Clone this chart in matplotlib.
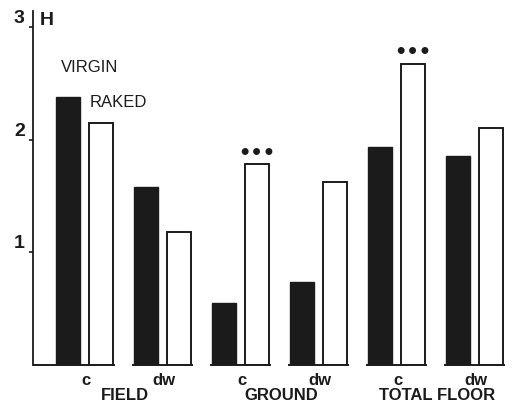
import matplotlib
matplotlib.use("Agg")
import matplotlib.pyplot as plt
import numpy as np

# ---- data ----
groups = ["FIELD c", "FIELD dw", "GROUND c", "GROUND dw", "TOTAL FLOOR c", "TOTAL FLOOR dw"]
sub_labels = ["c", "dw", "c", "dw", "c", "dw"]
virgin = [2.38, 1.58, 0.55, 0.74, 1.93, 1.85]
raked = [2.15, 1.18, 1.78, 1.62, 2.67, 2.10]
significant = ["", "", "***", "", "***", ""]
area_labels = ["FIELD", "GROUND", "TOTAL FLOOR"]
yticks = [1, 2, 3]
ytick_labels = ["1", "2", "3"]

dark = "#1b1b1b"
bold_font = ["Liberation Sans", "DejaVu Sans"]
narrow_font = ["Liberation Sans", "DejaVu Sans"]

fig = plt.figure(figsize=(5.25, 4.04), dpi=100)
ax = fig.add_axes([33 / 525, 39 / 404, 477 / 525, 354 / 404])

x = np.arange(len(groups))
off = 0.215
w = 0.31
ax.bar(x - off, virgin, width=w, color=dark, edgecolor=dark, linewidth=1.0)
ax.bar(x + off, raked, width=w, color="white", edgecolor=dark, linewidth=1.4)

ax.set_xlim(-0.66, 5.455)
ax.set_ylim(0, 3.14)

# broken baseline under each pair
for i in x:
    left = -0.66 if i == 0 else i - 0.385
    ax.plot([left, i + 0.385], [0, 0], color=dark, lw=1.4, clip_on=False,
            solid_capstyle="butt")

for s in ["top", "right", "bottom"]:
    ax.spines[s].set_visible(False)
ax.spines["left"].set_color(dark)
ax.spines["left"].set_linewidth(1.3)
ax.set_xticks([])
ax.set_yticks(yticks)
ax.set_yticklabels(ytick_labels, fontsize=14, fontweight="bold", family=bold_font,
                   color=dark)
for lab in ax.get_yticklabels():
    lab.set_va("bottom")
ax.tick_params(axis="y", direction="out", length=3, width=1.2, color=dark, pad=3)

ax.text(-0.49, 3.06, "H", fontsize=14, fontweight="bold", family=bold_font,
        color=dark, ha="center", va="center")

# legend-like labels
ax.text(0.07, 2.64, "VIRGIN", fontsize=12, family=narrow_font, color=dark,
        ha="center", va="center")
ax.text(0.44, 2.33, "RAKED", fontsize=12, family=narrow_font, color=dark,
        ha="center", va="center")

# significance marks
for i, sig in enumerate(significant):
    if sig:
        ax.text(i + off, raked[i] + 0.10, "•••", fontsize=14, fontweight="bold",
                family=["DejaVu Sans"], color=dark, ha="center", va="center")

# sub labels
for i, lab in enumerate(sub_labels):
    ax.text(i + 0.02, -0.135, lab, fontsize=12, fontweight="bold", family=bold_font,
            color=dark, ha="center", va="center", clip_on=False)

for k, lab in enumerate(area_labels):
    ax.text(2 * k + 0.52, -0.27, lab, fontsize=12, fontweight="bold", family=bold_font,
            color=dark, ha="center", va="center", clip_on=False)

fig.savefig("out.png", dpi=100)
